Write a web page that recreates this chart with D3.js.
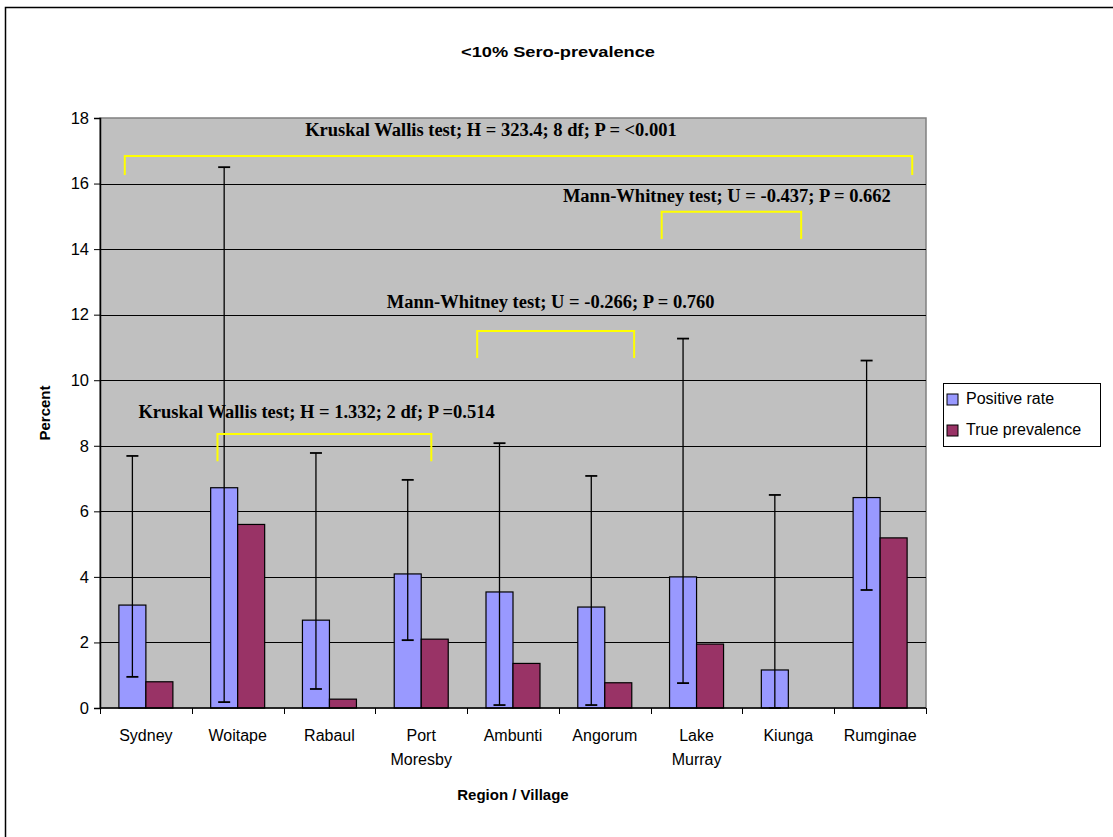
<!DOCTYPE html>
<html>
<head>
<meta charset="utf-8">
<script src="https://cdn.jsdelivr.net/npm/d3@7"></script>
<style>
  body { margin: 0; background: #fff; }
  svg { display: block; }
</style>
</head>
<body>
<svg id="chart" width="1113" height="837"></svg>
<script>
// data
var regions = [['Sydney'], ['Woitape'], ['Rabaul'], ['Port', 'Moresby'], ['Ambunti'], ['Angorum'], ['Lake', 'Murray'], ['Kiunga'], ['Rumginae']];
var positiveRate = [3.14, 6.72, 2.68, 4.09, 3.54, 3.08, 4.0, 1.16, 6.42];
var truePrevalence = [0.8, 5.6, 0.27, 2.1, 1.36, 0.77, 1.95, 0, 5.19];
var errLow = [0.95, 0.18, 0.58, 2.07, 0.09, 0.09, 0.76, 0, 3.6];
var errHigh = [7.69, 16.5, 7.78, 6.96, 8.08, 7.08, 11.27, 6.5, 10.6];
var yTicks = [0, 2, 4, 6, 8, 10, 12, 14, 16, 18];
var seriesNames = ['Positive rate', 'True prevalence'];
var seriesColors = ['#9999FF', '#993366'];

// test annotations: x in category units (0..9), y in percent
var tests = [
  {label: 'Kruskal Wallis test; H = 323.4; 8 df; P = <0.001', tx: 4.26, ty: 17.45, x0: 0.27, x1: 8.85, yTop: 16.84, yBot: 16.26},
  {label: 'Mann-Whitney test; U = -0.437; P = 0.662', tx: 6.83, ty: 15.44, x0: 6.12, x1: 7.64, yTop: 15.14, yBot: 14.31},
  {label: 'Mann-Whitney test; U = -0.266; P = 0.760', tx: 4.91, ty: 12.2, x0: 4.11, x1: 5.82, yTop: 11.5, yBot: 10.68},
  {label: 'Kruskal Wallis test; H = 1.332; 2 df; P =0.514', tx: 2.36, ty: 8.85, x0: 1.28, x1: 3.61, yTop: 8.36, yBot: 7.53}
];

var svg = d3.select('#chart');
var plotLeft = 100, plotRight = 926, plotTop = 118, plotBottom = 708;

// outer frame
svg.append('rect')
  .attr('x', 5.5).attr('y', 7.5)
  .attr('width', 1130).attr('height', 850)
  .attr('fill', 'none').attr('stroke', '#000').attr('stroke-width', 1.5);

var xScale = d3.scaleBand()
  .domain(d3.range(regions.length))
  .range([plotLeft, plotRight]);
var xPos = d3.scaleLinear().domain([0, regions.length]).range([plotLeft, plotRight]);
var yScale = d3.scaleLinear().domain([0, 18]).range([plotBottom, plotTop]);

// plot background
svg.append('rect')
  .attr('x', plotLeft).attr('y', plotTop)
  .attr('width', plotRight - plotLeft).attr('height', plotBottom - plotTop)
  .attr('fill', '#C0C0C0').attr('stroke', '#808080').attr('stroke-width', 1.5);

// gridlines
svg.append('g').selectAll('line')
  .data(yTicks.filter(function(d){ return d > 0 && d < 18; }))
  .enter().append('line')
  .attr('x1', plotLeft).attr('x2', plotRight)
  .attr('y1', function(d){ return Math.round(yScale(d)) + 0.5; })
  .attr('y2', function(d){ return Math.round(yScale(d)) + 0.5; })
  .attr('stroke', '#000').attr('stroke-width', 1);

// bars
var barW = 27;
var groups = svg.append('g').selectAll('g')
  .data(d3.range(regions.length))
  .enter().append('g')
  .attr('transform', function(i){ return 'translate(' + (xScale(i) + xScale.bandwidth() / 2 - barW) + ',0)'; });

groups.append('rect')
  .attr('x', 0).attr('width', barW)
  .attr('y', function(i){ return yScale(positiveRate[i]); })
  .attr('height', function(i){ return yScale(0) - yScale(positiveRate[i]); })
  .attr('fill', seriesColors[0]).attr('stroke', '#000').attr('stroke-width', 1.2);

groups.filter(function(i){ return truePrevalence[i] > 0; }).append('rect')
  .attr('x', barW).attr('width', barW)
  .attr('y', function(i){ return yScale(truePrevalence[i]); })
  .attr('height', function(i){ return yScale(0) - yScale(truePrevalence[i]); })
  .attr('fill', seriesColors[1]).attr('stroke', '#000').attr('stroke-width', 1.2);

// error bars on positive rate
var ex = barW / 2;
groups.append('line')
  .attr('x1', ex).attr('x2', ex)
  .attr('y1', function(i){ return yScale(errLow[i]); })
  .attr('y2', function(i){ return yScale(errHigh[i]); })
  .attr('stroke', '#000').attr('stroke-width', 1.3);
groups.append('line')
  .attr('x1', ex - 6).attr('x2', ex + 6)
  .attr('y1', function(i){ return yScale(errLow[i]); })
  .attr('y2', function(i){ return yScale(errLow[i]); })
  .attr('stroke', '#000').attr('stroke-width', 1.8);
groups.append('line')
  .attr('x1', ex - 6).attr('x2', ex + 6)
  .attr('y1', function(i){ return yScale(errHigh[i]); })
  .attr('y2', function(i){ return yScale(errHigh[i]); })
  .attr('stroke', '#000').attr('stroke-width', 1.8);

// y axis
var yAxis = d3.axisLeft(yScale).tickValues(yTicks).tickSize(6).tickPadding(5);
var gy = svg.append('g').attr('transform', 'translate(' + plotLeft + ',0)').call(yAxis);
gy.select('.domain').attr('stroke', '#000').attr('stroke-width', 1.5);
gy.selectAll('.tick line').attr('stroke', '#000');
gy.selectAll('.tick text').attr('font-family', 'Liberation Sans, Arial, sans-serif').attr('font-size', 16.5).attr('fill', '#000');

// x axis (ticks between categories)
svg.append('line')
  .attr('x1', plotLeft).attr('x2', plotRight).attr('y1', plotBottom).attr('y2', plotBottom)
  .attr('stroke', '#000').attr('stroke-width', 1.5);
svg.append('g').selectAll('line')
  .data(d3.range(regions.length + 1))
  .enter().append('line')
  .attr('x1', function(i){ return Math.round(xPos(i)) + 0.5; })
  .attr('x2', function(i){ return Math.round(xPos(i)) + 0.5; })
  .attr('y1', plotBottom).attr('y2', plotBottom + 6)
  .attr('stroke', '#000');

var xl = svg.append('g').selectAll('text')
  .data(d3.range(regions.length))
  .enter().append('text')
  .attr('x', function(i){ return xScale(i) + xScale.bandwidth() / 2; })
  .attr('y', 741)
  .attr('text-anchor', 'middle')
  .attr('font-family', 'Liberation Sans, Arial, sans-serif')
  .attr('font-size', 16);
xl.each(function(i){
  var t = d3.select(this);
  regions[i].forEach(function(line, k){
    t.append('tspan')
      .attr('x', xScale(i) + xScale.bandwidth() / 2)
      .attr('dy', k === 0 ? 0 : 24)
      .text(line);
  });
});

// titles
svg.append('text')
  .attr('x', 558).attr('y', 57)
  .attr('text-anchor', 'middle')
  .attr('font-family', 'Liberation Sans, Arial, sans-serif')
  .attr('font-weight', 'bold').attr('font-size', 14)
  .attr('textLength', 194).attr('lengthAdjust', 'spacingAndGlyphs')
  .text('<10% Sero-prevalence');

svg.append('text')
  .attr('x', 513).attr('y', 800)
  .attr('text-anchor', 'middle')
  .attr('font-family', 'Liberation Sans, Arial, sans-serif')
  .attr('font-weight', 'bold').attr('font-size', 15)
  .text('Region / Village');

svg.append('text')
  .attr('transform', 'translate(50,413) rotate(-90)')
  .attr('text-anchor', 'middle')
  .attr('font-family', 'Liberation Sans, Arial, sans-serif')
  .attr('font-weight', 'bold').attr('font-size', 15)
  .text('Percent');

// test annotations
var ann = svg.append('g').selectAll('g').data(tests).enter().append('g');
ann.append('path')
  .attr('d', function(d){
    return 'M' + xPos(d.x0) + ',' + yScale(d.yBot) +
           'V' + yScale(d.yTop) + 'H' + xPos(d.x1) + 'V' + yScale(d.yBot);
  })
  .attr('fill', 'none').attr('stroke', '#FFFF00').attr('stroke-width', 2);
ann.append('text')
  .attr('x', function(d){ return xPos(d.tx); })
  .attr('y', function(d){ return yScale(d.ty); })
  .attr('text-anchor', 'middle')
  .attr('font-family', 'Liberation Serif, Times New Roman, serif')
  .attr('font-weight', 'bold').attr('font-size', 18.5)
  .text(function(d){ return d.label; });

// legend
var lg = svg.append('g').attr('transform', 'translate(943,383)');
lg.append('rect')
  .attr('x', 0.5).attr('y', 0.5).attr('width', 157).attr('height', 63)
  .attr('fill', '#fff').attr('stroke', '#000');
var li = lg.selectAll('.item').data(seriesNames).enter().append('g')
  .attr('class', 'item')
  .attr('transform', function(d, i){ return 'translate(4,' + (11 + i * 31) + ')'; });
li.append('rect')
  .attr('width', 11).attr('height', 11)
  .attr('fill', function(d, i){ return seriesColors[i]; })
  .attr('stroke', '#000');
li.append('text')
  .attr('x', 19).attr('y', 10)
  .attr('font-family', 'Liberation Sans, Arial, sans-serif')
  .attr('font-size', 16)
  .text(function(d){ return d; });
</script>
</body>
</html>
